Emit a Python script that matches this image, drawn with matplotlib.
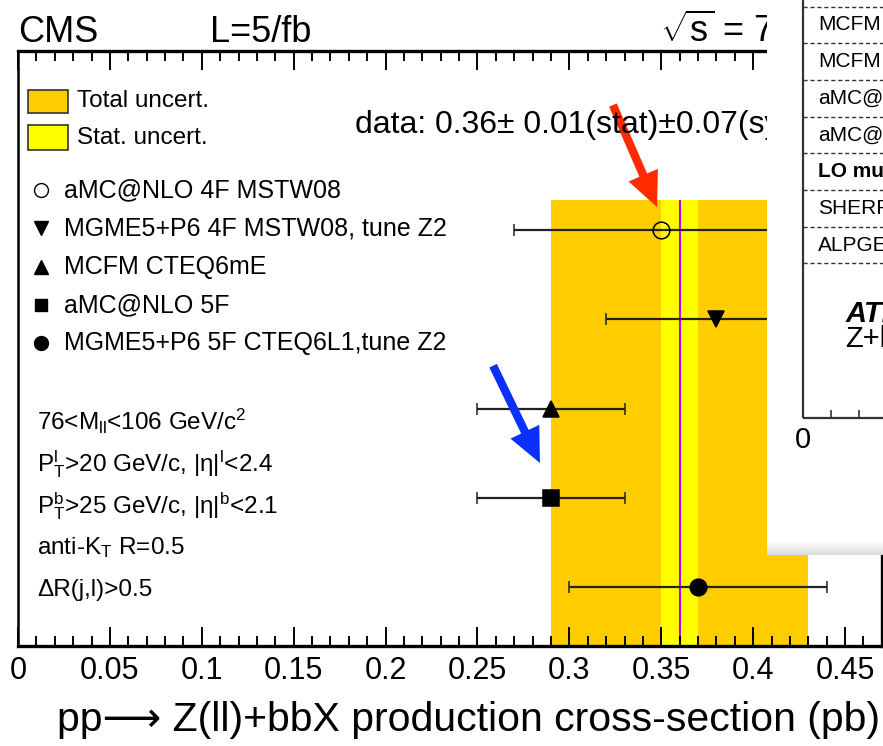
import numpy as np
import matplotlib
matplotlib.use("Agg")
import matplotlib.pyplot as plt
from matplotlib.lines import Line2D
from matplotlib.patches import Rectangle
from matplotlib.ticker import MultipleLocator, FuncFormatter

plt.rcParams["font.family"] = ["Liberation Sans", "DejaVu Sans"]
plt.rcParams["mathtext.fontset"] = "custom"
plt.rcParams["mathtext.rm"] = "Liberation Sans"
plt.rcParams["mathtext.it"] = "Liberation Sans:italic"
plt.rcParams["mathtext.bf"] = "Liberation Sans:bold"

# measured Z+bb cross-section (pb)
data_xsec = 0.36
data_stat = 0.01
data_tot = 0.07

# theory predictions, top to bottom
pred_labels = [
    "aMC@NLO 4F MSTW08",
    "MGME5+P6 4F MSTW08, tune Z2",
    "MCFM CTEQ6mE",
    "aMC@NLO 5F",
    "MGME5+P6 5F CTEQ6L1,tune Z2",
]
pred_values = [0.35, 0.38, 0.29, 0.29, 0.37]
pred_err_lo = [0.08, 0.06, 0.04, 0.04, 0.07]
pred_err_hi = [0.08, 0.06, 0.04, 0.04, 0.07]
pred_markers = ["o", "v", "^", "s", "o"]
pred_filled = [False, True, True, True, True]

cut_labels = [
    r"76<M$_{\mathrm{ll}}$<106 GeV/c$^{\mathrm{2}}$",
    r"P$_{\mathrm{T}}^{\mathrm{l}}$>20 GeV/c, |η|$^{\mathrm{l}}$<2.4",
    r"P$_{\mathrm{T}}^{\mathrm{b}}$>25 GeV/c, |η|$^{\mathrm{b}}$<2.1",
    r"anti-K$_{\mathrm{T}}$ R=0.5",
    "ΔR(j,l)>0.5",
]

# rows of the overlapping ATLAS table (cut off at the right edge)
atlas_rows = ["MCFM", "MCFM", "aMC@NLO", "aMC@NLO", "LO multileg", "SHERPA", "ALPGEN"]
atlas_bold = [False, False, False, False, True, False, False]

W, H = 883, 746


def fx(px):
    return px / W


def fy(py):
    return 1 - py / H


fig = plt.figure(figsize=(W / 100, H / 100), dpi=100)
ax = fig.add_axes([fx(18), fy(646), (882 - 18) / W, (646 - 51) / H])
ax.set_xlim(0, 0.4701)
ax.set_ylim(4.66, -2.006)
ybot = ax.get_ylim()[0]
band_top = -0.336

# data bands
ax.fill_betweenx([band_top, ybot], data_xsec - data_tot, data_xsec + data_tot,
                 color="#ffcc00", lw=0, zorder=0.5)
ax.fill_betweenx([band_top, ybot], data_xsec - data_stat, data_xsec + data_stat,
                 color="#ffff00", lw=0, zorder=0.6)
ax.vlines(data_xsec, band_top, ybot, color="#c400ff", lw=1.5, zorder=0.7)

# predictions
for i in range(len(pred_values)):
    ax.errorbar(pred_values[i], i, xerr=[[pred_err_lo[i]], [pred_err_hi[i]]],
                fmt=pred_markers[i], ms=12 if pred_markers[i] != "s" else 11,
                mfc="black" if pred_filled[i] else "none", mec="black", mew=1.1,
                ecolor="#222222", elinewidth=1.6, capsize=4, capthick=1.6, zorder=3)

# axis style
ax.xaxis.set_major_locator(MultipleLocator(0.05))
ax.xaxis.set_minor_locator(MultipleLocator(0.01))
ax.xaxis.set_major_formatter(FuncFormatter(lambda v, _: f"{v:g}"))
ax.tick_params(axis="x", which="major", direction="in", top=True, bottom=True,
               length=14, width=1.4, labelsize=22, pad=7)
ax.tick_params(axis="x", which="minor", direction="in", top=True, bottom=True,
               length=7, width=1.4)
ax.tick_params(axis="y", which="both", left=False, right=False, labelleft=False)
for s in ax.spines.values():
    s.set_linewidth(2.4)
ax.spines["left"].set_linewidth(1.8)

# arrows
ax.annotate("", xy=(0.3477, -0.258), xytext=(0.3237, -1.40),
            arrowprops=dict(arrowstyle="simple,head_length=25,head_width=23,tail_width=6",
                            mutation_scale=1, color="#ff2a00", lw=0, shrinkA=0, shrinkB=0))
ax.annotate("", xy=(0.284, 2.61), xytext=(0.2585, 1.52),
            arrowprops=dict(arrowstyle="simple,head_length=25,head_width=23,tail_width=6",
                            mutation_scale=1, color="#0a30ff", lw=0, shrinkA=0, shrinkB=0))

# header
fig.text(fx(18), fy(42), "CMS", fontsize=26, va="baseline")
fig.text(fx(210), fy(42), "L=5/fb", fontsize=26, va="baseline")
fig.text(fx(660), fy(42), r"$\sqrt{\mathrm{s}}$ = 7 TeV", fontsize=26, va="baseline")

# uncertainty legend
fig.add_artist(Rectangle((fx(28), fy(113)), 40 / W, 23 / H, transform=fig.transFigure,
                         facecolor="#ffcc00", edgecolor="#333333", lw=1.2))
fig.add_artist(Rectangle((fx(28), fy(150)), 40 / W, 25 / H, transform=fig.transFigure,
                         facecolor="#ffff00", edgecolor="#333333", lw=1.2))
fig.text(fx(77), fy(101), "Total uncert.", fontsize=17.5, va="center")
fig.text(fx(77), fy(138), "Stat. uncert.", fontsize=17.5, va="center")
fig.text(fx(355), fy(125), "data: 0.36± 0.01(stat)±0.07(syst)", fontsize=23, va="center")

# prediction legend
for i, lab in enumerate(pred_labels):
    yy = 190 + 38.3 * i
    fig.add_artist(Line2D([fx(41)], [fy(yy)], transform=fig.transFigure,
                          marker=pred_markers[i], ms=10 if pred_markers[i] != "s" else 9,
                          mfc="black" if pred_filled[i] else "none", mec="black", mew=1.0))
    fig.text(fx(64), fy(yy), lab, fontsize=18, va="center")

# selection cuts
for i, lab in enumerate(cut_labels):
    fig.text(fx(37), fy(430 + 41.5 * i), lab, fontsize=17.5, va="baseline")

# x label
fig.text(fx(880), fy(731), "pp⟶ Z(ll)+bbX production cross-section (pb)",
         fontsize=29.5, ha="right", va="baseline")

# overlapping ATLAS panel
pax = fig.add_axes([fx(767), fy(555), (W - 767) / W, 555 / H])
pax.set_zorder(5)
pax.set_facecolor("white")
for s in pax.spines.values():
    s.set_visible(False)
pax.set_xticks([])
pax.set_yticks([])
pax.set_xlim(767, 883)
pax.set_ylim(555, 0)
for k in range(14):
    pax.axhspan(541 + k, 542 + k, color=str(1 - 0.011 * k), lw=0)
pax.vlines(803, 0, 418, color="#333333", lw=1.6)
pax.hlines(418, 803, 883, color="#333333", lw=1.6)
pax.vlines([831, 859], 410, 418, color="#333333", lw=1.2)
pax.text(803, 440, "0", fontsize=21, ha="center", va="center")
for i in range(len(atlas_rows) + 1):
    pax.hlines(6.5 + 36.7 * i, 803, 883, color="#333333", lw=1.0, linestyles=(0, (3, 2)))
for i, lab in enumerate(atlas_rows):
    pax.text(818, 25 + 36.7 * i, lab, fontsize=15, va="center",
             fontweight="bold" if atlas_bold[i] else "normal")
pax.text(846, 314, "ATLAS", fontsize=21, fontweight="bold", fontstyle="italic", va="center")
pax.text(845, 339, "Z+b", fontsize=21, va="center")

fig.savefig("out.png", dpi=100)
